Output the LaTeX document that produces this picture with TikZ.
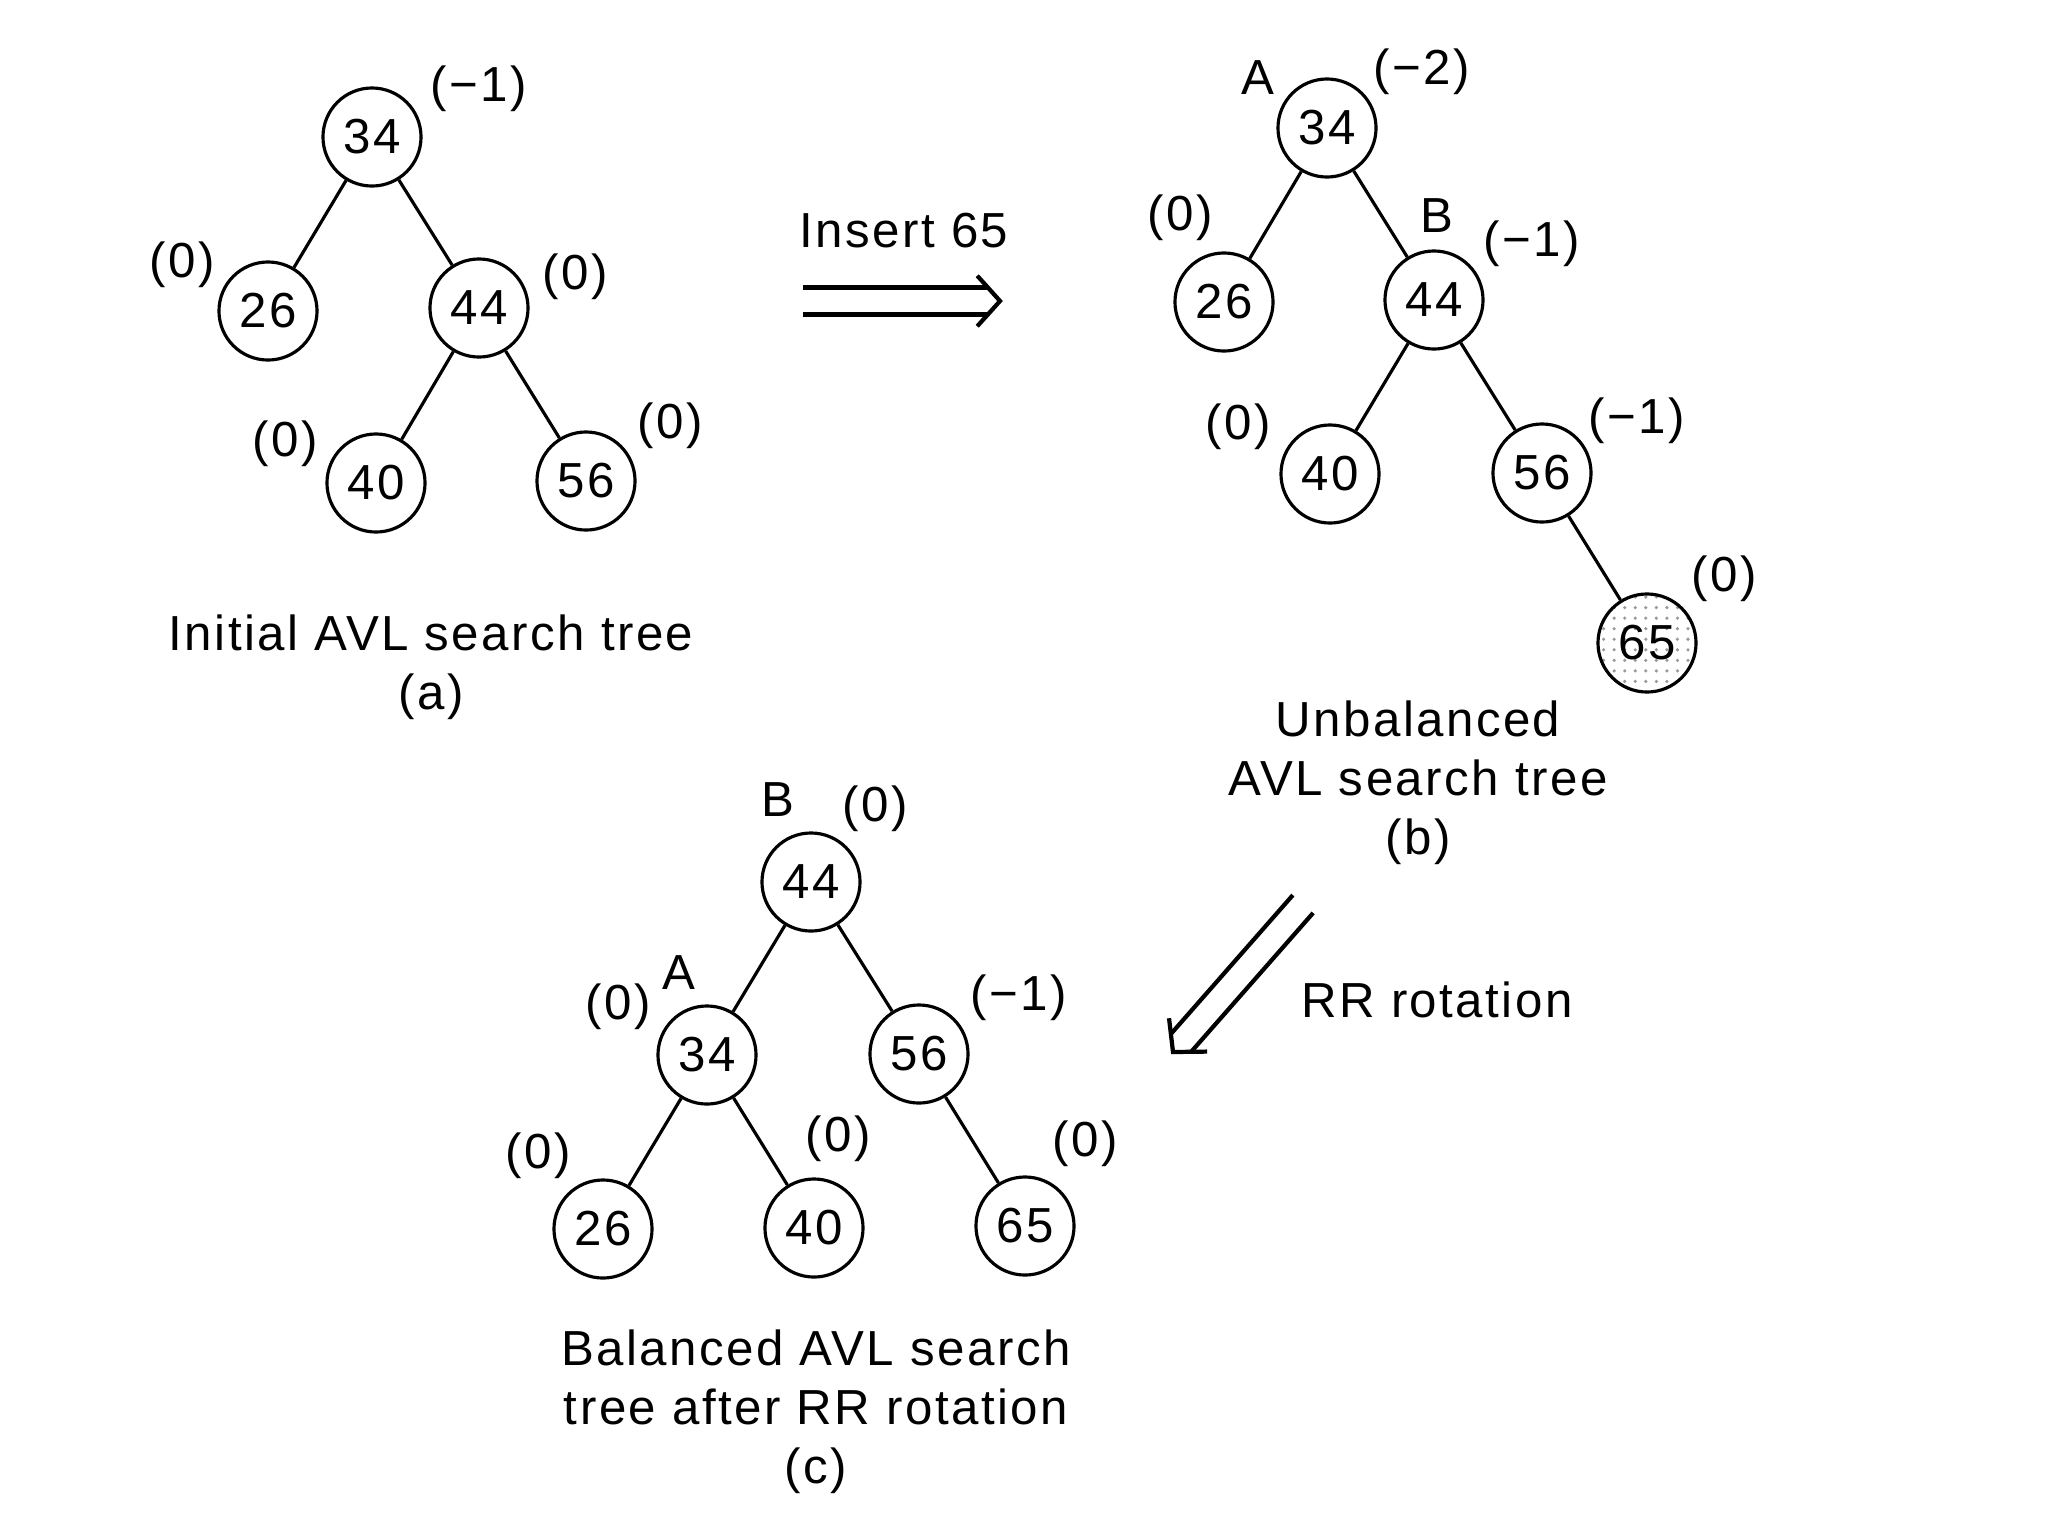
\documentclass[tikz,border=0pt]{standalone}
\usepackage{fontspec}
\setmainfont{Liberation Sans}[LetterSpace=5]
\usetikzlibrary{calc,patterns}
\newcommand\avlarrow[2]{%
  \coordinate (#2back) at ($(#2)!0.12cm!(#1)$);
  \draw[arrline] ($(#1)!0.135cm!90:(#2)$) -- ($(#2back)!0.135cm!-90:(#1)$);
  \draw[arrline] ($(#1)!0.135cm!-90:(#2)$) -- ($(#2back)!0.135cm!90:(#1)$);
  \draw[arrline,line join=miter] ($(#2)!0.34cm!48:(#1)$) -- (#2) -- ($(#2)!0.34cm!-48:(#1)$);
}
\begin{document}
\begin{tikzpicture}[x=0.01cm,y=-0.01cm,
  every node/.style={font=\fontsize{14}{16.8}\selectfont},
  tnode/.style={circle,draw,line width=0.9pt,minimum size=0.98cm,inner sep=0pt},
  newnode/.style={tnode,pattern=dots,pattern color=black!40},
  lbl/.style={inner sep=0pt},
  edge/.style={line width=0.9pt},
  caption/.style={align=center,inner sep=0pt},
  arrline/.style={line width=1.2pt}]
\useasboundingbox (0,0) rectangle (2048,1536);

% ---------- tree (a) ----------
\node[tnode] (a34) at (372,137) {34};
\node[tnode] (a26) at (268,311) {26};
\node[tnode] (a44) at (479,308) {44};
\node[tnode] (a40) at (376,483) {40};
\node[tnode] (a56) at (586,481) {56};
\draw[edge] (a34) -- (a26);
\draw[edge] (a34) -- (a44);
\draw[edge] (a44) -- (a40);
\draw[edge] (a44) -- (a56);
\node[lbl] (la34) at (479,89) {(−1)};
\node[lbl] (la26) at (182,265) {(0)};
\node[lbl] (la44) at (575,277) {(0)};
\node[lbl] (la40) at (285,444) {(0)};
\node[lbl] (la56) at (670,426) {(0)};
\node[caption] (capa) at (431,667) {Initial AVL search tree\\(a)};

% ---------- insert arrow ----------
\node[lbl] (instext) at (904,231) {Insert 65};
\coordinate (insS) at (803,301);
\coordinate (insT) at (1000,301);
\avlarrow{insS}{insT}

% ---------- tree (b) ----------
\node[tnode] (b34) at (1327,128) {34};
\node[tnode] (b26) at (1224,302) {26};
\node[tnode] (b44) at (1434,300) {44};
\node[tnode] (b40) at (1330,474) {40};
\node[tnode] (b56) at (1542,473) {56};
\node[newnode] (b65) at (1647,643) {65};
\draw[edge] (b34) -- (b26);
\draw[edge] (b34) -- (b44);
\draw[edge] (b44) -- (b40);
\draw[edge] (b44) -- (b56);
\draw[edge] (b56) -- (b65);
\node[lbl] (lbA) at (1258,78) {A};
\node[lbl] (lb34) at (1422,72) {(−2)};
\node[lbl] (lb26) at (1180,218) {(0)};
\node[lbl] (lbB) at (1437,216) {B};
\node[lbl] (lb44) at (1532,244) {(−1)};
\node[lbl] (lb40) at (1238,427) {(0)};
\node[lbl] (lb56) at (1637,421) {(−1)};
\node[lbl] (lb65) at (1724,579) {(0)};
\node[caption] (capb) at (1418,783) {Unbalanced\\AVL search tree\\(b)};

% ---------- RR arrow ----------
\coordinate (rrS) at (1303,904);
\coordinate (rrT) at (1173,1052);
\avlarrow{rrS}{rrT}
\node[lbl] (rrtext) at (1437,1000) {RR rotation};

% ---------- tree (c) ----------
\node[tnode] (c44) at (811,882) {44};
\node[tnode] (c34) at (707,1055) {34};
\node[tnode] (c56) at (919,1054) {56};
\node[tnode] (c26) at (603,1229) {26};
\node[tnode] (c40) at (814,1228) {40};
\node[tnode] (c65) at (1025,1226) {65};
\draw[edge] (c44) -- (c34);
\draw[edge] (c44) -- (c56);
\draw[edge] (c34) -- (c26);
\draw[edge] (c34) -- (c40);
\draw[edge] (c56) -- (c65);
\node[lbl] (lcB) at (778,800) {B};
\node[lbl] (lc44) at (875,809) {(0)};
\node[lbl] (lcA) at (679,973) {A};
\node[lbl] (lc34) at (618,1007) {(0)};
\node[lbl] (lc56) at (1019,998) {(−1)};
\node[lbl] (lc26) at (538,1156) {(0)};
\node[lbl] (lc40) at (838,1139) {(0)};
\node[lbl] (lc65) at (1085,1144) {(0)};
\node[caption] (capc) at (816,1412) {Balanced AVL search\\tree after RR rotation\\(c)};
\end{tikzpicture}
\end{document}
